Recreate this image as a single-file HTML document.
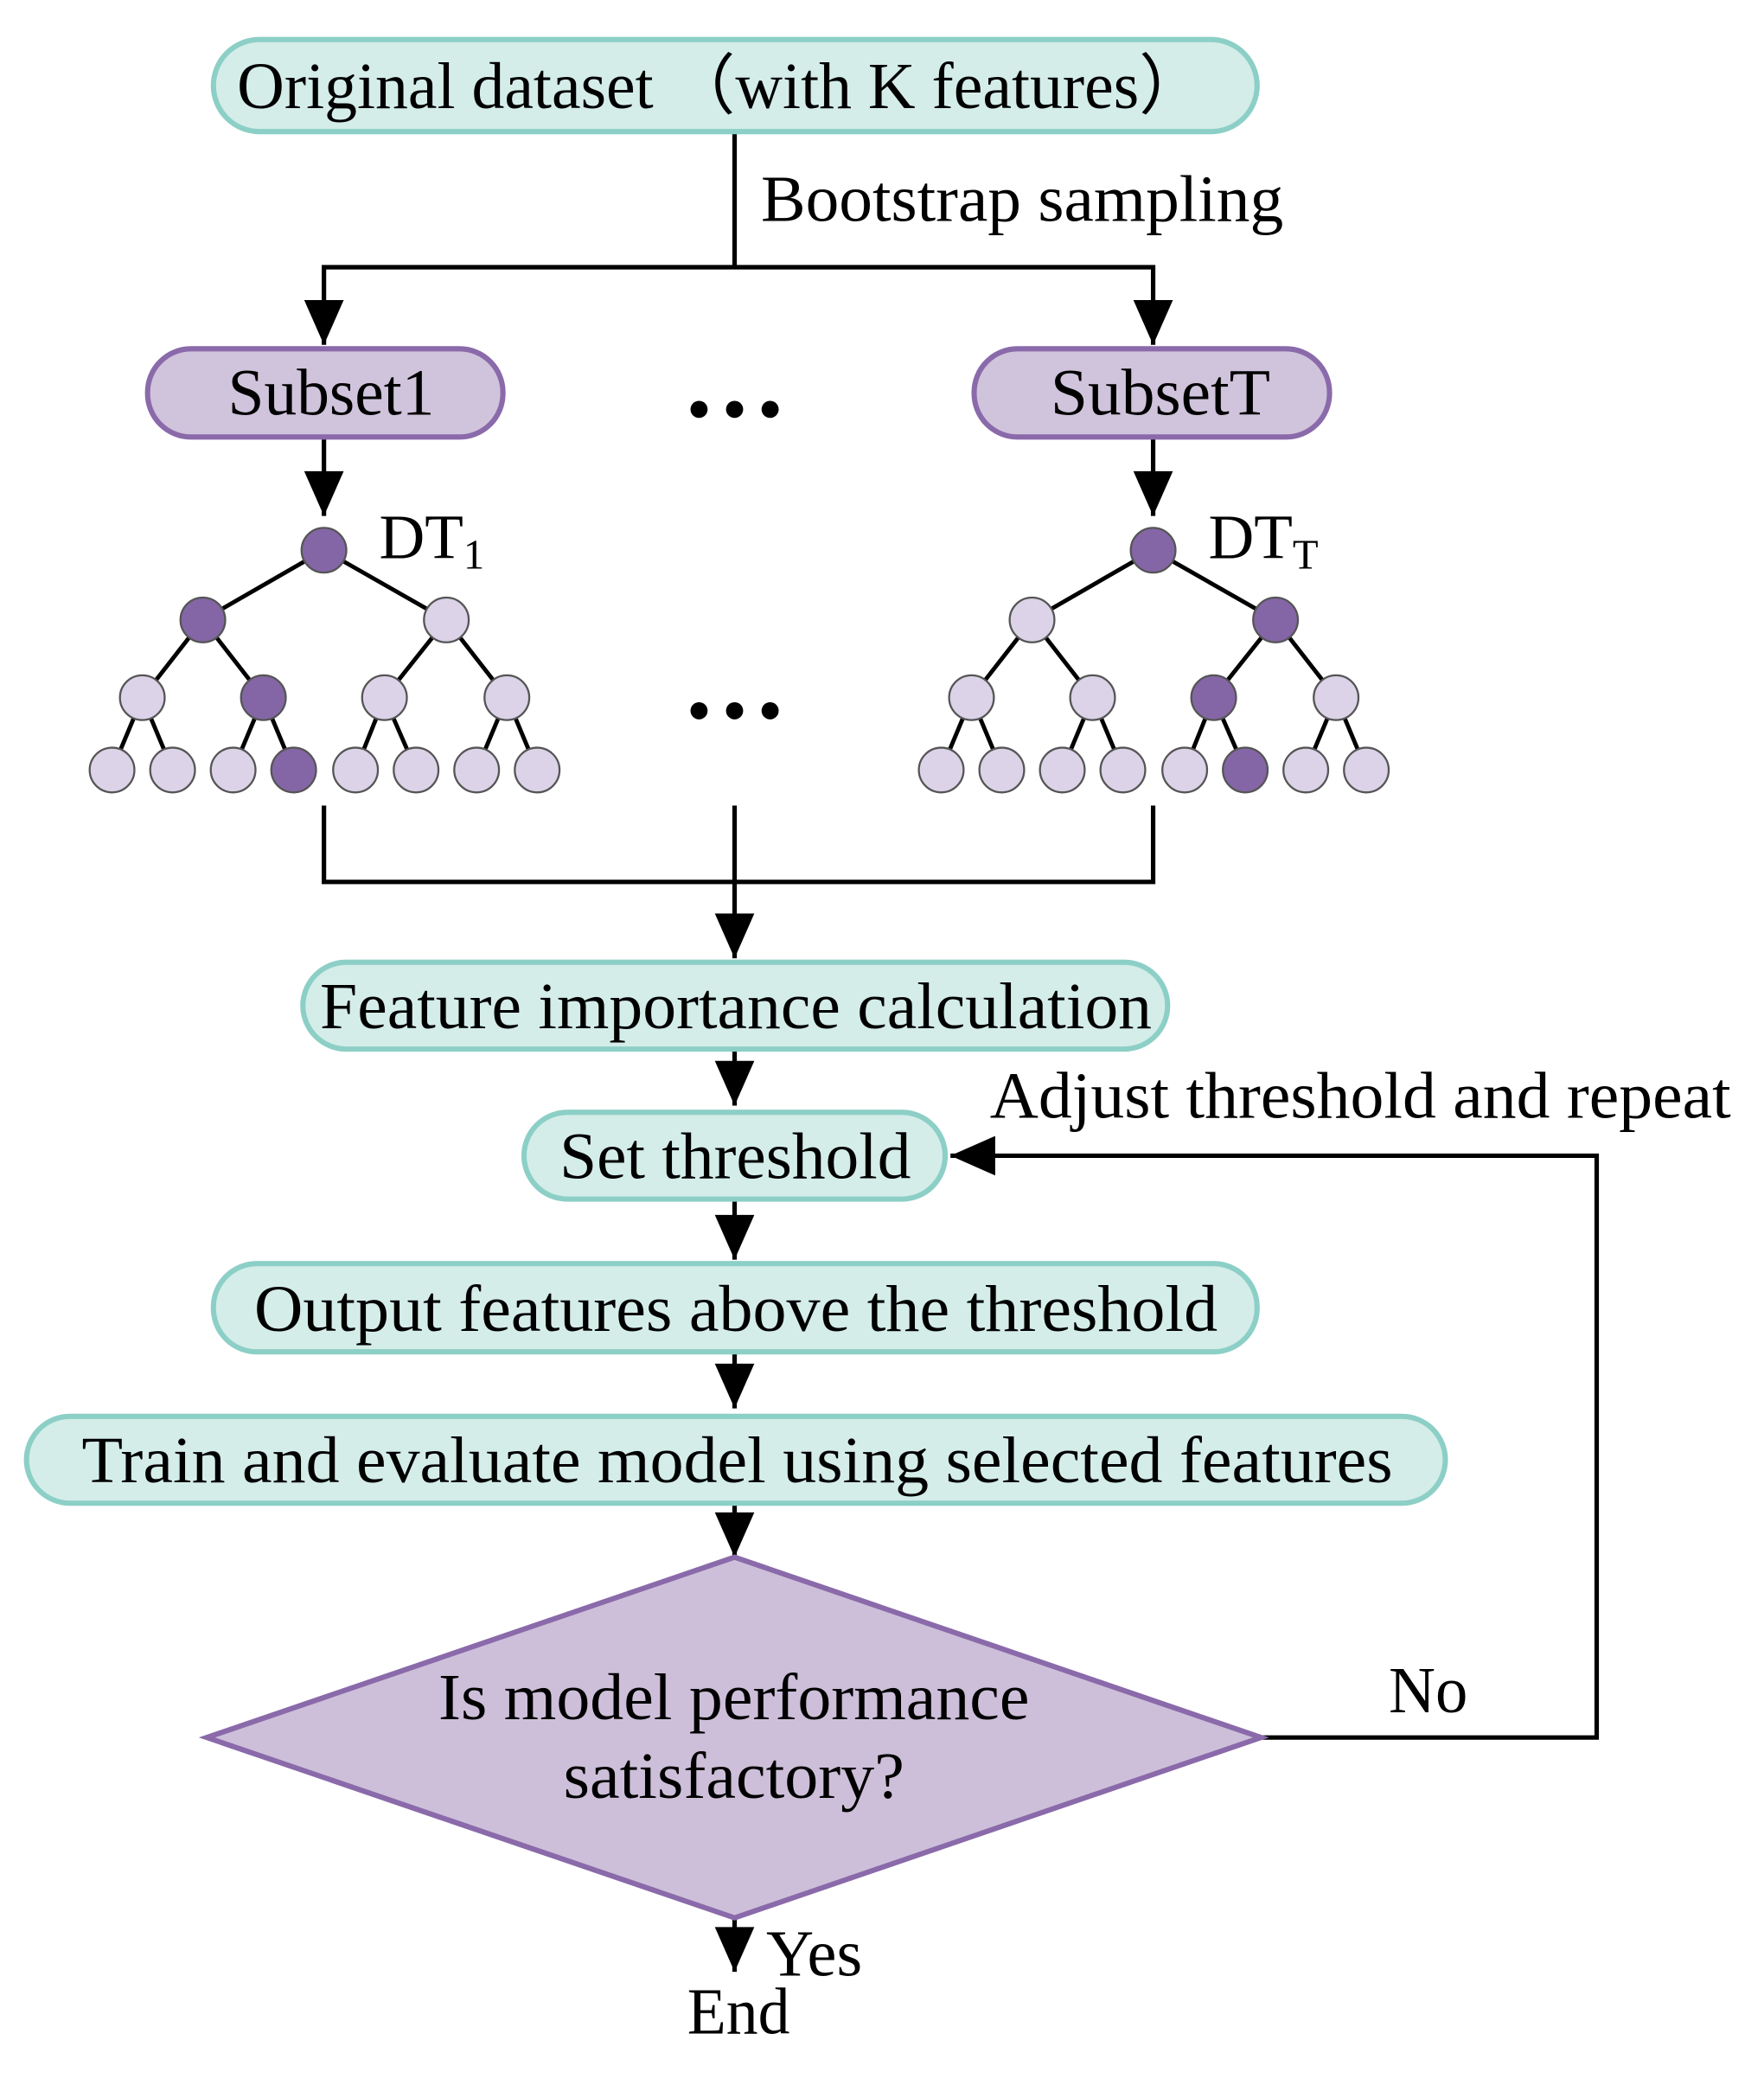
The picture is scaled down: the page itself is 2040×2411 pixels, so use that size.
<!DOCTYPE html>
<html><head><meta charset="utf-8"><style>html,body{margin:0;padding:0;background:#fff}svg{display:block}</style></head>
<body>
<svg width="2040" height="2411" viewBox="0 0 1340 1584" xmlns="http://www.w3.org/2000/svg" font-family="Liberation Serif, serif" font-size="50">
<g stroke="#000" stroke-width="3.4" fill="none">
<line x1="558" y1="100" x2="558" y2="203"/>
<polyline points="246,262 246,203 876,203 876,262"/>
<line x1="246" y1="332" x2="246" y2="392"/>
<line x1="876" y1="332" x2="876" y2="392"/>
<polyline points="246,612 246,670 876,670 876,612"/>
<line x1="558" y1="612" x2="558" y2="728"/>
<line x1="558" y1="797" x2="558" y2="840"/>
<line x1="558" y1="911" x2="558" y2="957"/>
<line x1="558" y1="1027" x2="558" y2="1070"/>
<line x1="558" y1="1142" x2="558" y2="1183"/>
<polyline points="958,1320 1213,1320 1213,878 722,878"/>
<line x1="558" y1="1457" x2="558" y2="1498"/>
</g>
<g fill="#000">
<path d="M231,228 L261,228 L246,262z"/><path d="M861,228 L891,228 L876,262z"/>
<path d="M231,358 L261,358 L246,392z"/><path d="M861,358 L891,358 L876,392z"/>
<path d="M543,694 L573,694 L558,728z"/>
<path d="M543,806 L573,806 L558,840z"/>
<path d="M543,923 L573,923 L558,957z"/>
<path d="M543,1036 L573,1036 L558,1070z"/>
<path d="M543,1149 L573,1149 L558,1183z"/>
<path d="M543,1464 L573,1464 L558,1498z"/>
<path d="M722,878 L756,863 L756,893z"/>
</g>
<g stroke="#8ccfc6" stroke-width="4" fill="#d4ede9">
<rect x="162" y="30" width="793" height="70" rx="35"/>
<rect x="230" y="731" width="657" height="66" rx="33"/>
<rect x="398" y="845" width="320" height="66" rx="33"/>
<rect x="162" y="960" width="793" height="67" rx="33"/>
<rect x="20" y="1076" width="1078" height="66" rx="33"/>
</g>
<g stroke="#8a6aaa" stroke-width="4" fill="#d0c4dc">
<rect x="112" y="265" width="270" height="67" rx="33"/>
<rect x="740" y="265" width="270" height="67" rx="33"/>
<path d="M558,1183 L958,1320 L558,1457 L157,1320z" fill="#cdbfd9"/>
</g>
<g stroke="#000" stroke-width="3.2">
<path d="M246,418 L154,471 M246,418 L339,471 M154,471 L108,530 M154,471 L200,530 M339,471 L292,530 M339,471 L385,530 M108,530 L85,585 M108,530 L131,585 M200,530 L177,585 M200,530 L223,585 M292,530 L270,585 M292,530 L316,585 M385,530 L362,585 M385,530 L408,585"/>
<path transform="translate(630,0)" d="M246,418 L154,471 M246,418 L339,471 M154,471 L108,530 M154,471 L200,530 M339,471 L292,530 M339,471 L385,530 M108,530 L85,585 M108,530 L131,585 M200,530 L177,585 M200,530 L223,585 M292,530 L270,585 M292,530 L316,585 M385,530 L362,585 M385,530 L408,585"/>
</g>
<g stroke="#555" stroke-width="1.5" fill="#dcd3e8">
<circle cx="246" cy="418" r="17" fill="#8466a6"/>
<circle cx="154" cy="471" r="17" fill="#8466a6"/><circle cx="339" cy="471" r="17"/>
<circle cx="108" cy="530" r="17"/><circle cx="200" cy="530" r="17" fill="#8466a6"/><circle cx="292" cy="530" r="17"/><circle cx="385" cy="530" r="17"/>
<circle cx="85" cy="585" r="17"/><circle cx="131" cy="585" r="17"/><circle cx="177" cy="585" r="17"/><circle cx="223" cy="585" r="17" fill="#8466a6"/><circle cx="270" cy="585" r="17"/><circle cx="316" cy="585" r="17"/><circle cx="362" cy="585" r="17"/><circle cx="408" cy="585" r="17"/>
<circle cx="876" cy="418" r="17" fill="#8466a6"/>
<circle cx="784" cy="471" r="17"/><circle cx="969" cy="471" r="17" fill="#8466a6"/>
<circle cx="738" cy="530" r="17"/><circle cx="830" cy="530" r="17"/><circle cx="922" cy="530" r="17" fill="#8466a6"/><circle cx="1015" cy="530" r="17"/>
<circle cx="715" cy="585" r="17"/><circle cx="761" cy="585" r="17"/><circle cx="807" cy="585" r="17"/><circle cx="853" cy="585" r="17"/><circle cx="900" cy="585" r="17"/><circle cx="946" cy="585" r="17" fill="#8466a6"/><circle cx="992" cy="585" r="17"/><circle cx="1038" cy="585" r="17"/>
</g>
<g fill="#000">
<circle cx="531" cy="311" r="6.5"/><circle cx="558" cy="311" r="6.5"/><circle cx="585" cy="311" r="6.5"/>
<circle cx="531" cy="540" r="6.5"/><circle cx="558" cy="540" r="6.5"/><circle cx="585" cy="540" r="6.5"/>
</g>
<g fill="#000">
<text x="180" y="82" textLength="735" lengthAdjust="spacingAndGlyphs">Original dataset （with K features）</text>
<text x="578" y="168" textLength="397" lengthAdjust="spacingAndGlyphs">Bootstrap sampling</text>
<text x="173" y="315" textLength="157" lengthAdjust="spacingAndGlyphs">Subset1</text>
<text x="798" y="315" textLength="167" lengthAdjust="spacingAndGlyphs">SubsetT</text>
<text x="288" y="424" font-size="48">DT<tspan font-size="32" dy="8">1</tspan></text>
<text x="918" y="424" font-size="48">DT<tspan font-size="32" dy="8">T</tspan></text>
<text x="243" y="781" textLength="632" lengthAdjust="spacingAndGlyphs">Feature importance calculation</text>
<text x="425" y="895" textLength="267" lengthAdjust="spacingAndGlyphs">Set threshold</text>
<text x="193" y="1011" textLength="732" lengthAdjust="spacingAndGlyphs">Output features above the threshold</text>
<text x="62" y="1126" textLength="996" lengthAdjust="spacingAndGlyphs">Train and evaluate model using selected features</text>
<text x="333" y="1306" textLength="449" lengthAdjust="spacingAndGlyphs">Is model performance</text>
<text x="428" y="1366" textLength="259" lengthAdjust="spacingAndGlyphs">satisfactory?</text>
<text x="752" y="849" textLength="563" lengthAdjust="spacingAndGlyphs">Adjust threshold and repeat</text>
<text x="1055" y="1301" textLength="60" lengthAdjust="spacingAndGlyphs">No</text>
<text x="582" y="1501" textLength="73" lengthAdjust="spacingAndGlyphs">Yes</text>
<text x="522" y="1545" textLength="78" lengthAdjust="spacingAndGlyphs">End</text>
</g>
</svg>
</body></html>
